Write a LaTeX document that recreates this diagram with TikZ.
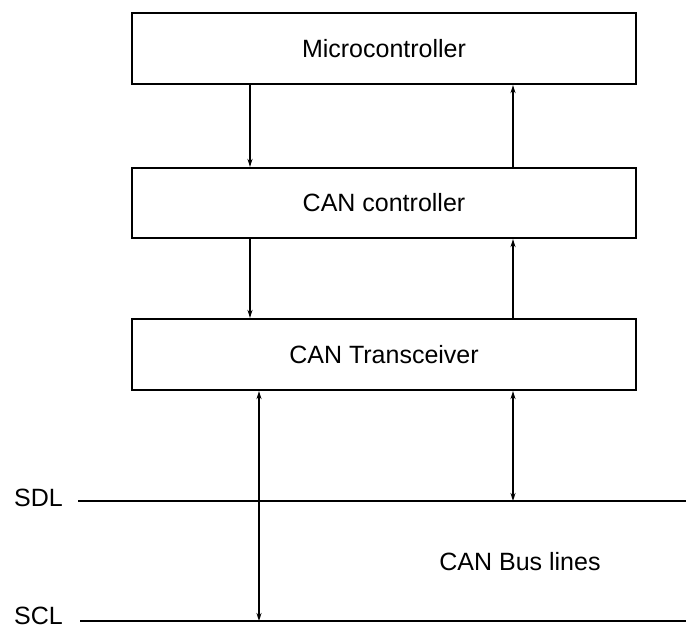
\documentclass[tikz,border=0pt]{standalone}
\usepackage{fontspec}
\setmainfont{Liberation Sans}
\usetikzlibrary{arrows.meta}
\begin{document}
\begin{tikzpicture}[x=1pt,y=-1pt,
  blk/.style={draw, line width=2.2pt, minimum width=504pt, inner sep=0pt, font=\fontsize{25}{30}\selectfont},
  conn/.style={line width=2pt, -{Stealth[length=8pt,width=5pt]}},
  bconn/.style={line width=2pt, {Stealth[length=8pt,width=5pt]}-{Stealth[length=8pt,width=5pt]}},
  bus/.style={line width=2.4pt},
  lbl/.style={font=\fontsize{25}{30}\selectfont, inner sep=0pt}]
\useasboundingbox (0,0) rectangle (686,630);
\node[blk, minimum height=71pt] (mc) at (384,48.5) {Microcontroller};
\node[blk, minimum height=70pt] (cc) at (384,203) {CAN controller};
\node[blk, minimum height=71pt] (tr) at (384,354.5) {CAN Transceiver};
\coordinate (L) at (250,0);
\coordinate (R) at (513,0);
\coordinate (L2) at (259,0);
\coordinate (sdlA) at (78,501);
\coordinate (sdlB) at (686,501);
\coordinate (sclA) at (80,621);
\coordinate (sclB) at (686,621);
\node[lbl, anchor=east] (sdl) at (63,498) {SDL};
\node[lbl, anchor=east] (scl) at (63,616) {SCL};
\node[lbl] (busl) at (520,562) {CAN Bus lines};
\draw[bus] (sdlA) -- (sdlB);
\draw[bus] (sclA) -- (sclB);
\draw[conn] (mc.south -| L) -- (cc.north -| L);
\draw[conn] (cc.north -| R) -- (mc.south -| R);
\draw[conn] (cc.south -| L) -- (tr.north -| L);
\draw[conn] (tr.north -| R) -- (cc.south -| R);
\draw[bconn] (L2 |- sclA) -- (tr.south -| L2);
\draw[bconn] (R |- sdlA) -- (tr.south -| R);
\end{tikzpicture}
\end{document}
